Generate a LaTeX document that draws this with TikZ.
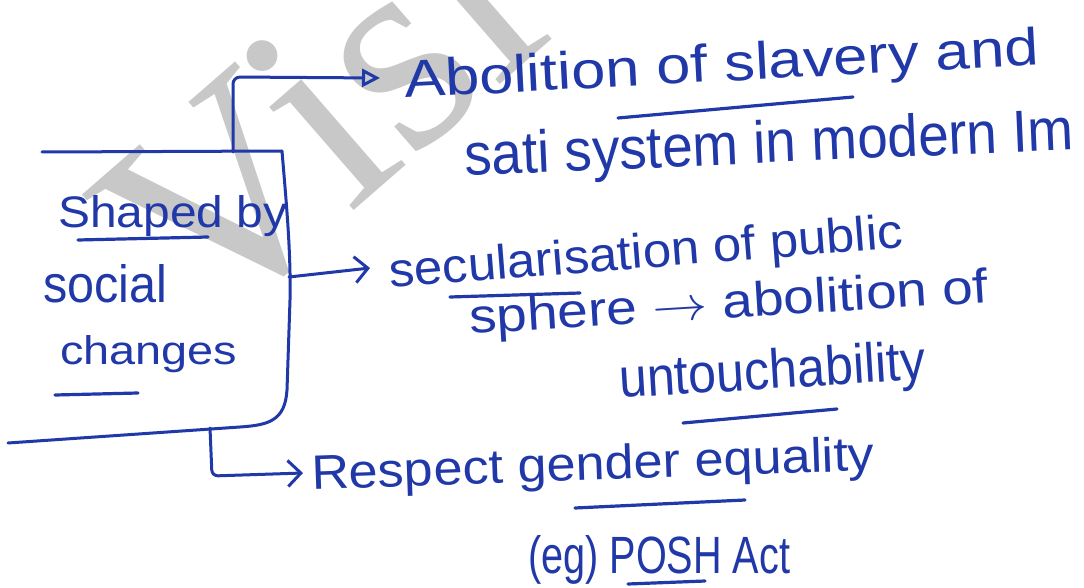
\documentclass[tikz,border=0pt]{standalone}
\usepackage{fontspec}
\usepackage{graphicx}
\setmainfont{Liberation Sans}
\newfontfamily\wmfont{Liberation Serif}
\usetikzlibrary{arrows.meta}
\definecolor{ink}{RGB}{32,56,168}
\definecolor{wmgray}{RGB}{200,200,200}
\newcommand{\hwtext}[3]{\resizebox{#1}{#2}{#3}}
\begin{document}
\begin{tikzpicture}[x=1pt,y=-1pt,
  pen/.style={draw=ink, line width=3pt, line cap=round, line join=round},
  hw/.style={text=ink, inner sep=0pt, anchor=base west},
  arrowA/.style={pen, -{Triangle[open,length=18pt,width=18pt,line width=3pt]}},
  arrowB/.style={pen, -{Straight Barb[length=13pt,width=26pt,line width=3pt]}},
  uline/.style={pen, line width=3.2pt},
  watermark/.style={text=wmgray, inner sep=0pt, anchor=base west, rotate=41,
    font=\wmfont\fontsize{290}{290}\selectfont},
]
\useasboundingbox (0,0) rectangle (1084,588);
\fill[white] (0,0) rectangle (1084,588);
% watermark
\node[watermark] (wm) at (204,341) {Visi};
% texts
\node[hw, rotate=3] (t1) at (405,98) {\hwtext{635pt}{38pt}{Abolition of slavery and}};
\node[hw, rotate=2.5] (t2) at (465,176) {\hwtext{610pt}{43pt}{sati system in modern Im}};
\node[hw] (t3) at (58,228) {\hwtext{229pt}{32pt}{Shaped by}};
\node[hw] (t4) at (43,302) {\hwtext{124pt}{38pt}{social}};
\node[hw] (t5) at (60,364) {\hwtext{177pt}{29pt}{changes}};
\node[hw, rotate=4.5] (t6) at (390,288) {\hwtext{515pt}{35pt}{secularisation of public}};
\node[hw, rotate=3.5] (t7) at (470,334) {\hwtext{520pt}{35pt}{sphere $\rightarrow$ abolition of}};
\node[hw, rotate=3.5] (t8) at (620,398) {\hwtext{307pt}{40pt}{untouchability}};
\node[hw, rotate=2] (t9) at (312,490) {\hwtext{563pt}{35pt}{Respect gender equality}};
\node[hw] (t10) at (528,573) {\hwtext{262pt}{38pt}{(eg) POSH Act}};
% box
\coordinate (boxTL) at (42,152);
\coordinate (boxTR) at (282,151);
\coordinate (boxBR) at (240,427);
\coordinate (boxBL) at (8,443);
\draw[pen] (boxTL) -- (boxTR) .. controls (286,200) and (291,250) .. (290,300)
  -- (287,390) .. controls (285,420) and (270,425) .. (boxBR) -- (boxBL);
% connectors
\coordinate (a1s) at (233,152);
\coordinate (a1c) at (233,77);
\coordinate (a1e) at (380,78);
\coordinate (a2s) at (289,277);
\coordinate (a2e) at (370,268);
\coordinate (a3s) at (210,428);
\coordinate (a3c) at (212,476);
\coordinate (a3e) at (303,473);
\draw[arrowA, rounded corners=7pt] (a1s) -- (a1c) -- (a1e);
\draw[arrowB] (a2s) -- (a2e);
\draw[arrowB, rounded corners=6pt] (a3s) -- (a3c) -- (a3e);
% underlines
\draw[uline] (78,240) -- (208,237);
\draw[uline] (55,395) -- (138,393);
\draw[uline] (618,118) -- (853,97);
\draw[uline] (450,297) -- (580,293);
\draw[uline] (683,423) -- (837,409);
\draw[uline] (575,508) -- (745,500);
\draw[uline] (628,584) -- (705,581);
\end{tikzpicture}
\end{document}
